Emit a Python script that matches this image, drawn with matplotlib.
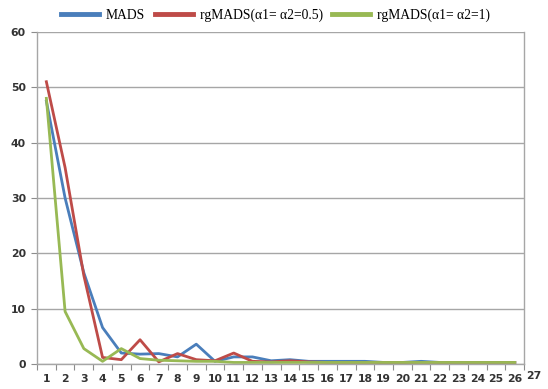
import numpy as np
import matplotlib
matplotlib.use('Agg')
from matplotlib import pyplot as plt
from matplotlib.transforms import blended_transform_factory

iters = list(range(1, 27))
mads = [47.5, 30, 16.5, 6.6, 2.0, 1.8, 1.9, 1.3, 3.6, 0.5, 1.3, 1.3, 0.6, 0.8,
        0.5, 0.5, 0.5, 0.5, 0.3, 0.3, 0.5, 0.3, 0.3, 0.3, 0.3, 0.3]
rg05 = [51, 35.5, 16, 1.2, 0.8, 4.4, 0.4, 1.9, 0.8, 0.6, 2.0, 0.5, 0.4, 0.6,
        0.4, 0.3, 0.3, 0.3, 0.3, 0.3, 0.3, 0.3, 0.3, 0.3, 0.3, 0.3]
rg1 = [48, 9.5, 2.8, 0.5, 2.8, 1.0, 0.7, 0.6, 0.5, 0.5, 0.3, 0.3, 0.3, 0.3,
       0.3, 0.3, 0.3, 0.3, 0.3, 0.3, 0.3, 0.3, 0.3, 0.3, 0.3, 0.3]
names = ['MADS', 'rgMADS(α1= α2=0.5)', 'rgMADS(α1= α2=1)']
colors = ['#4a7ebb', '#be4b48', '#98b954']

fig = plt.figure(figsize=(5.48, 3.89), dpi=100)
ax = fig.add_axes([0.0675, 0.064, 0.889, 0.854])

for vals, name, c in zip([mads, rg05, rg1], names, colors):
    ax.plot(iters, vals, color=c, lw=2.0, label=name)

ax.set_xlim(0.5, 26.5)
ax.set_ylim(0, 60)
ax.set_yticks(range(0, 61, 10))
ax.yaxis.grid(True, color='#a6a6a6', lw=1.0)
ax.set_axisbelow(True)

# category axis: ticks between categories, labels centered
ax.set_xticks(np.arange(0.5, 27, 1))
ax.set_xticklabels([])
ax.set_xticks(iters, minor=True)
ax.set_xticklabels([str(i) for i in iters], minor=True)
ax.tick_params(axis='x', which='minor', length=0, pad=7)
ax.tick_params(axis='x', which='major', length=4, color='#8c8c8c')
ax.tick_params(axis='y', length=4, color='#8c8c8c', pad=4)

# the stray "27" label past the last category
tr = blended_transform_factory(ax.transData, ax.transAxes)
ax.annotate('27', xy=(27, 0), xycoords=tr, xytext=(0, -5.0), textcoords='offset points',
            ha='center', va='top', fontsize=7.8, color='#333333', fontweight='bold',
            annotation_clip=False)

for lbl in ax.get_xticklabels(minor=True) + ax.get_yticklabels():
    lbl.set_fontsize(7.8)
    lbl.set_color('#333333')
    lbl.set_fontweight('bold')

ax.spines['top'].set_visible(False)
for s in ['left', 'right', 'bottom']:
    ax.spines[s].set_color('#a6a6a6')
    ax.spines[s].set_linewidth(1.0)

leg = ax.legend(loc='center', bbox_to_anchor=(0.49, 1.05), ncol=3, frameon=False,
                prop={'family': 'Liberation Serif', 'size': 9.8}, handlelength=2.8,
                columnspacing=0.7, handletextpad=0.5, borderaxespad=0, borderpad=0)
for h in leg.get_lines():
    h.set_linewidth(3.5)

fig.savefig('out.png', dpi=100)
